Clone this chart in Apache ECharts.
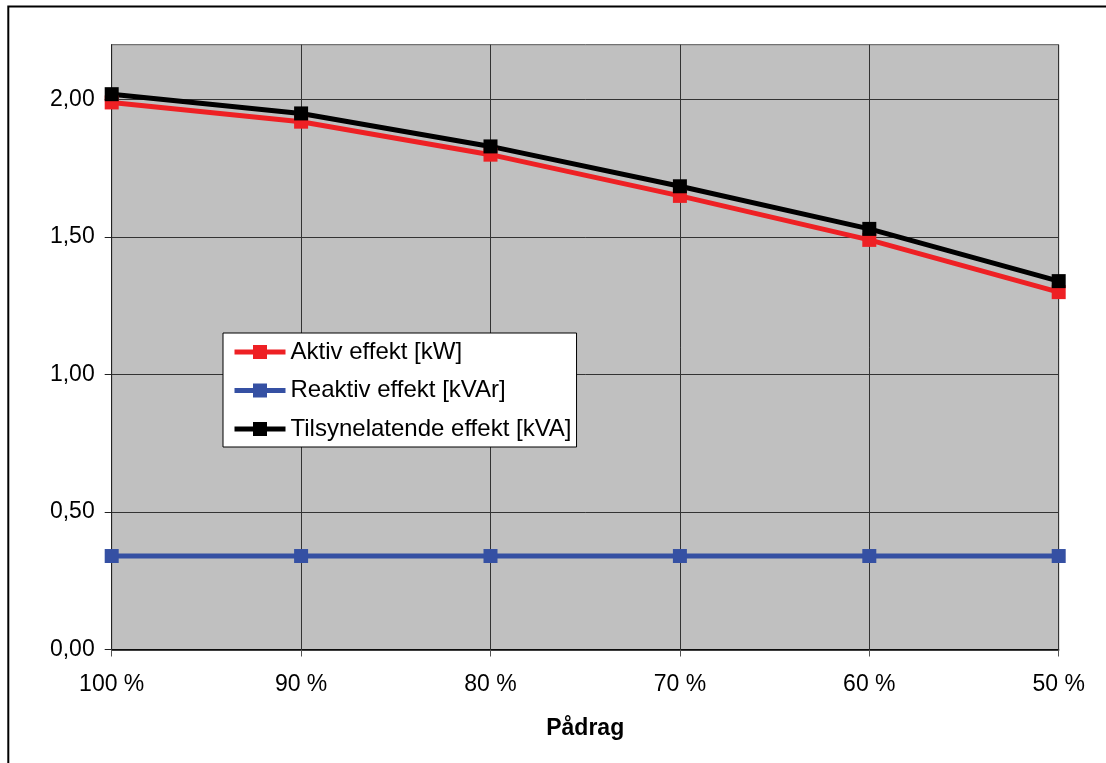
<!DOCTYPE html>
<html>
<head>
<meta charset="utf-8">
<script src="https://cdn.jsdelivr.net/npm/echarts@6/dist/echarts.min.js"></script>
<style>
  html, body { margin: 0; padding: 0; background: #fff; }
  #chart { width: 1106px; height: 763px; }
</style>
</head>
<body>
<div id="chart"></div>
<script>
// Load levels on the category axis
const categories = ['100 %', '90 %', '80 %', '70 %', '60 %', '50 %'];

// Power values per load level
const aktivEffekt = [1.99, 1.92, 1.80, 1.65, 1.49, 1.30];
const reaktivEffekt = [0.34, 0.34, 0.34, 0.34, 0.34, 0.34];
const tilsynelatendeEffekt = [2.02, 1.95, 1.83, 1.685, 1.53, 1.34];

const seriesNames = ['Aktiv effekt [kW]', 'Reaktiv effekt [kVAr]', 'Tilsynelatende effekt [kVA]'];
const yTicks = [0, 0.5, 1, 1.5, 2];

const FONT = '"Liberation Sans", Arial, sans-serif';

function lineSeries(name, data, color) {
  return {
    name: name,
    type: 'line',
    data: data,
    symbol: 'rect',
    symbolSize: 14,
    showAllSymbol: true,
    lineStyle: { color: color, width: 5 },
    itemStyle: { color: color, borderWidth: 0 },
    emphasis: { disabled: true },
    animation: false
  };
}

const chart = echarts.init(document.getElementById('chart'), null, { renderer: 'canvas' });
chart.setOption({
  animation: false,
  backgroundColor: '#ffffff',
  textStyle: { fontFamily: FONT },
  graphic: [{
    type: 'rect',
    shape: { x: 8.3, y: 6.5, width: 1300, height: 1000 },
    style: { fill: 'none', stroke: '#000', lineWidth: 2 },
    silent: true,
    z: 100
  }],
  grid: {
    left: 111.7,
    right: 47.3,
    top: 44.7,
    bottom: 113.5,
    show: true,
    backgroundColor: '#c0c0c0',
    borderColor: '#555555',
    borderWidth: 1,
    outerBoundsMode: 'none',
    containLabel: false
  },
  legend: {
    orient: 'vertical',
    left: 223,
    top: 333,
    padding: [6, 5, 5, 9],
    itemGap: 12.5,
    itemWidth: 51,
    itemHeight: 17.5,
    backgroundColor: '#ffffff',
    borderColor: '#000000',
    borderWidth: 1,
    borderRadius: 0,
    selectedMode: false,
    lineStyle: { width: 5 },
    textStyle: { fontFamily: FONT, fontSize: 24, color: '#000', lineHeight: 26, padding: [0, 0, 0, 0] },
    data: seriesNames
  },
  xAxis: {
    type: 'category',
    data: categories,
    boundaryGap: false,
    name: 'Pådrag',
    nameLocation: 'middle',
    nameGap: 68,
    nameTextStyle: { fontFamily: FONT, fontSize: 23, fontWeight: 'bold', color: '#000' },
    axisLine: { show: true, onZero: false, lineStyle: { color: '#000', width: 1.5 } },
    axisTick: { show: true, inside: false, length: 7, alignWithLabel: true, lineStyle: { color: '#555', width: 1 } },
    axisLabel: { fontFamily: FONT, fontSize: 23, color: '#000', margin: 24, interval: 0 },
    splitLine: { show: true, interval: 0, lineStyle: { color: '#333333', width: 1 } }
  },
  yAxis: {
    type: 'value',
    min: 0,
    max: 2.2,
    interval: 0.5,
    axisLine: { show: true, lineStyle: { color: '#222', width: 1 } },
    axisTick: { show: true, inside: false, length: 7, customValues: yTicks, lineStyle: { color: '#222', width: 1 } },
    axisLabel: {
      fontFamily: FONT, fontSize: 23, color: '#000', margin: 17,
      customValues: yTicks,
      formatter: function (v) { return v.toFixed(2).replace('.', ','); }
    },
    splitLine: { show: true, lineStyle: { color: '#333333', width: 1 } }
  },
  series: [
    lineSeries(seriesNames[0], aktivEffekt, '#ee2024'),
    lineSeries(seriesNames[1], reaktivEffekt, '#3550a3'),
    lineSeries(seriesNames[2], tilsynelatendeEffekt, '#000000')
  ]
});
</script>
</body>
</html>
